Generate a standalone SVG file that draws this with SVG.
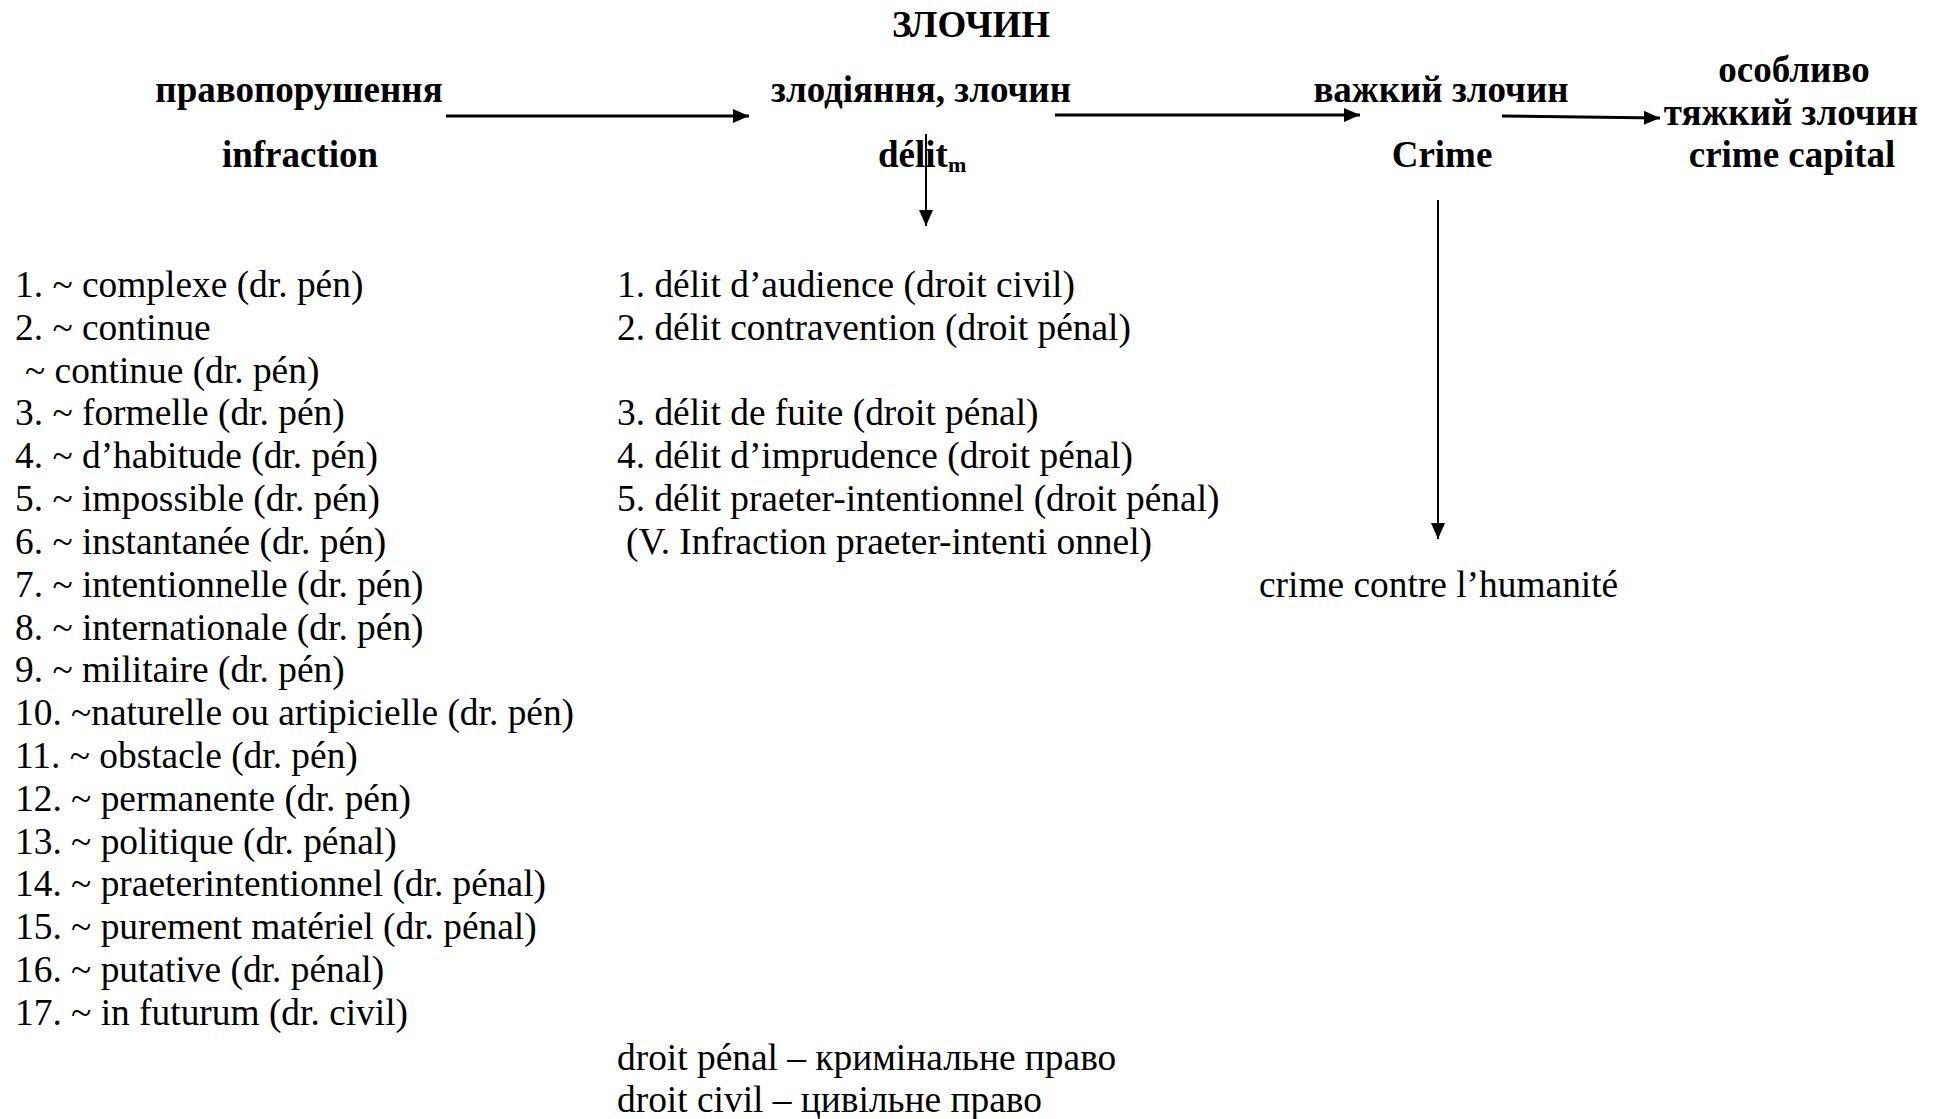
<svg xmlns="http://www.w3.org/2000/svg" width="1942" height="1119" viewBox="0 0 1942 1119">
<style>
text { font-family: "Liberation Serif", "Times New Roman", serif; fill: #000; }
.b { font-weight: bold; font-size: 37px; }
.r { font-size: 37.4px; }
.sub { font-size: 22px; font-weight: bold; }
.conn line { stroke: #000; fill: none; }
.thick { stroke-width: 3; }
.thin { stroke-width: 2; }
</style>
<defs>
<marker id="ah" viewBox="0 0 16 14" refX="16" refY="7" markerWidth="16" markerHeight="14" markerUnits="userSpaceOnUse" orient="auto">
<path d="M0,0 L16,7 L0,14 Z" fill="#000"/>
</marker>
</defs>
<rect width="1942" height="1119" fill="#fff"/>

<g id="title"><text class="b" x="971" y="37" text-anchor="middle">ЗЛОЧИН</text></g>

<g id="node-infraction">
<text class="b" x="299" y="102" text-anchor="middle">правопорушення</text>
<text class="b" x="300" y="167" text-anchor="middle">infraction</text>
</g>
<g id="node-delit">
<text class="b" x="921" y="102" text-anchor="middle">злодіяння, злочин</text>
<text class="b" x="878" y="167">délit<tspan class="sub" dy="5">m</tspan></text>
</g>
<g id="node-crime">
<text class="b" x="1441" y="102" text-anchor="middle">важкий злочин</text>
<text class="b" x="1442" y="167" text-anchor="middle">Crime</text>
</g>
<g id="node-capital">
<text class="b" x="1794" y="82" text-anchor="middle">особливо</text>
<text class="b" x="1791" y="125" text-anchor="middle">тяжкий злочин</text>
<text class="b" x="1792" y="167" text-anchor="middle">crime capital</text>
</g>

<g id="list-infraction">
<text class="r" x="15" y="297">1. ~ complexe (dr. pén)</text>
<text class="r" x="15" y="340">2. ~ continue</text>
<text class="r" x="25" y="383">~ continue (dr. pén)</text>
<text class="r" x="15" y="425">3. ~ formelle (dr. pén)</text>
<text class="r" x="15" y="468">4. ~ d’habitude (dr. pén)</text>
<text class="r" x="15" y="511">5. ~ impossible (dr. pén)</text>
<text class="r" x="15" y="554">6. ~ instantanée (dr. pén)</text>
<text class="r" x="15" y="597">7. ~ intentionnelle (dr. pén)</text>
<text class="r" x="15" y="640">8. ~ internationale (dr. pén)</text>
<text class="r" x="15" y="682">9. ~ militaire (dr. pén)</text>
<text class="r" x="15" y="725">10. ~naturelle ou artipicielle (dr. pén)</text>
<text class="r" x="15" y="768">11. ~ obstacle (dr. pén)</text>
<text class="r" x="15" y="811">12. ~ permanente (dr. pén)</text>
<text class="r" x="15" y="854">13. ~ politique (dr. pénal)</text>
<text class="r" x="15" y="896">14. ~ praeterintentionnel (dr. pénal)</text>
<text class="r" x="15" y="939">15. ~ purement matériel (dr. pénal)</text>
<text class="r" x="15" y="982">16. ~ putative (dr. pénal)</text>
<text class="r" x="15" y="1025">17. ~ in futurum (dr. civil)</text>
</g>

<g id="list-delit">
<text class="r" x="617" y="297">1. délit d’audience (droit civil)</text>
<text class="r" x="617" y="340">2. délit contravention (droit pénal)</text>
<text class="r" x="617" y="425">3. délit de fuite (droit pénal)</text>
<text class="r" x="617" y="468">4. délit d’imprudence (droit pénal)</text>
<text class="r" x="617" y="511">5. délit praeter-intentionnel (droit pénal)</text>
<text class="r" x="626" y="554">(V. Infraction praeter-intenti onnel)</text>
</g>

<g id="node-humanite">
<text class="r" x="1259" y="597">crime contre l’humanité</text>
</g>

<g id="legend">
<text class="r" x="617" y="1070">droit pénal – кримінальне право</text>
<text class="r" x="617" y="1112">droit civil – цивільне право</text>
</g>

<g id="connectors" class="conn">
<line class="thick" x1="446" y1="116" x2="749" y2="116" marker-end="url(#ah)"/>
<line class="thick" x1="1055" y1="115" x2="1360" y2="115" marker-end="url(#ah)"/>
<line class="thick" x1="1502" y1="116" x2="1660" y2="118" marker-end="url(#ah)"/>
<line class="thin" x1="926" y1="134" x2="926" y2="226" marker-end="url(#ah)"/>
<line class="thin" x1="1438" y1="200" x2="1438" y2="539" marker-end="url(#ah)"/>
</g>
</svg>
